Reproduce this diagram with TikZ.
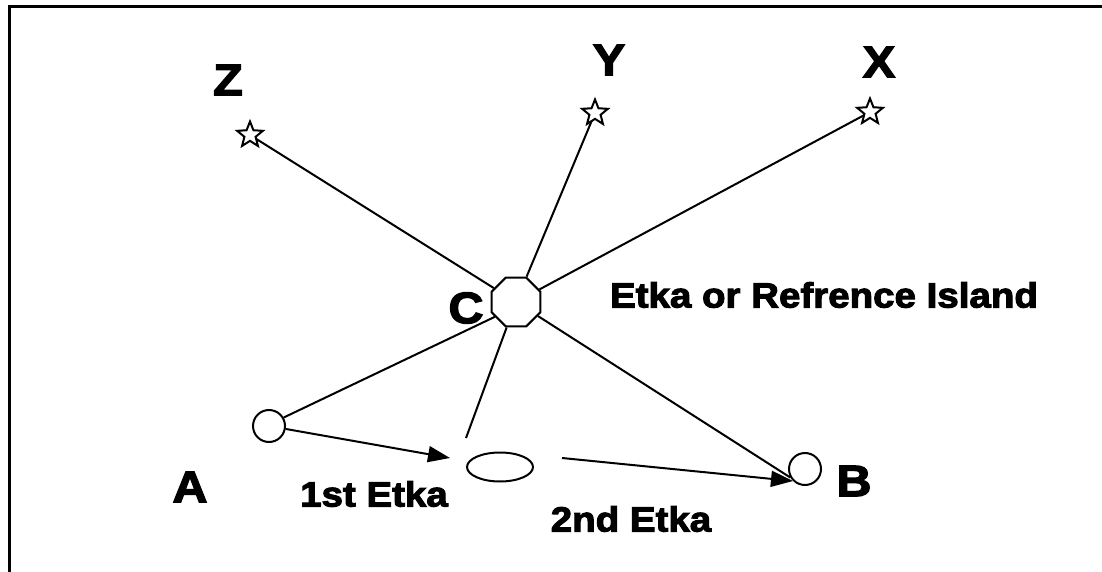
\documentclass[tikz,border=0pt]{standalone}
\usepackage{fontspec}
\newfontfamily\lblfont{Liberation Sans}[FakeStretch=1.1,BoldFeatures={FakeBold=3}]
\usepackage{tikz}
\usetikzlibrary{arrows.meta,shapes}

\begin{document}
\begin{tikzpicture}[x=0.5pt,y=-0.5pt,line width=1pt,
  letter/.style={inner sep=0pt,font=\lblfont\bfseries\fontsize{22}{24}\selectfont},
  caption/.style={inner sep=0pt,font=\lblfont\bfseries\fontsize{17.5}{20}\selectfont},
  island/.style={star,star points=5,star point ratio=2.3,draw,fill=white,
    minimum size=13.5pt,inner sep=0pt,line width=1pt},
  etka/.style={circle,draw,minimum size=16pt,inner sep=0pt},
  arr/.style={-{Triangle[length=11pt,width=8pt]}}]
  \useasboundingbox (0,0) rectangle (1102,572);

  % frame
  \draw[line width=1.5pt] (9,572) -- (9,7) -- (1102,7);

  % Reference island
  \node[regular polygon,regular polygon sides=8,draw,minimum size=26.5pt,
    inner sep=0pt] (c) at (516,302) {};
  \node[letter] (cl) at (466,308) {C};
  \node[caption] (ref) at (824,295) {Etka or Refrence Island};

  % Stars
  \foreach \n/\L/\x/\y/\lx/\ly in {z/Z/250/135/228/80, y/Y/595/113/609/60,
      x/X/870/112/879/62} {
    \draw (c) -- (\x,\y);
    \node[island] (\n) at (\x,\y) {};
    \node[letter] (\n l) at (\lx,\ly) {\L};
  }

  % Etkas
  \node[etka] (a) at (269,426) {};
  \node[etka] (b) at (805,469) {};
  \node[ellipse,draw,minimum width=33pt,minimum height=14.5pt,inner sep=0pt]
    (e) at (500,467) {};
  \node[letter] (al) at (190,487) {A};
  \node[letter] (bl) at (854,481) {B};
  \node[caption] (e1) at (374,494) {1st Etka};
  \node[caption] (e2) at (631,519) {2nd Etka};

  \coordinate (t1) at (450,458);
  \coordinate (s2) at (562,458);
  \coordinate (ce) at (466,438);

  \draw (a.30) -- (c.215);
  \draw (c) -- (ce);
  \draw (c) -- (b.210);
  \draw[arr] (a) -- (t1);
  \draw[arr] (s2) -- (b.south west);
\end{tikzpicture}
\end{document}
